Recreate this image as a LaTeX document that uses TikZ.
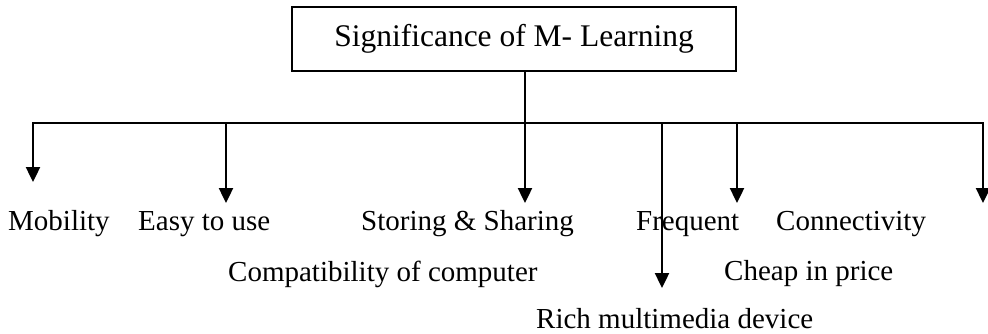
\documentclass[tikz,border=0pt]{standalone}
\usepackage{fontspec}
\setmainfont{Liberation Serif}
\usetikzlibrary{arrows.meta}
\begin{document}
\begin{tikzpicture}[x=1pt,y=-1pt,
  lbl/.style={anchor=base west, inner sep=0pt, font=\fontsize{29}{34}\selectfont},
  titlebox/.style={draw, line width=1.6pt, minimum width=444pt, minimum height=64pt,
    inner sep=0pt, font=\fontsize{31.5}{36}\selectfont},
  stem/.style={line width=1.6pt},
  arr/.style={line width=2.4pt, line join=miter, -{Triangle[length=15pt,width=14pt]}},
  busarr/.style={line width=2.4pt, line join=miter,
    {Triangle[length=15pt,width=14pt]}-{Triangle[length=15pt,width=14pt]}}]
\useasboundingbox (0,0) rectangle (988,333);

% title box
\node[titlebox] (top) at (514,39) {Significance of M- Learning};

% labels
\node[lbl] (mob)  at (8,230)   {Mobility};
\node[lbl] (easy) at (138,230) {Easy to use};
\node[lbl] (stor) at (361,230) {Storing \& Sharing};
\node[lbl] (freq) at (636,230) {Frequent};
\node[lbl] (conn) at (776,230) {Connectivity};
\node[lbl] (comp) at (228,281) {Compatibility of computer};
\node[lbl] (chp)  at (724,280) {Cheap in price};
\node[lbl] (rich) at (536,328) {Rich multimedia device};

% bus and arrow tips
\coordinate (busL) at (33,123);
\coordinate (busR) at (983,123);
\coordinate (j)    at (525,123);
\coordinate (jF)   at (662,123);
\coordinate (jE)   at (226,123);
\coordinate (jC)   at (737,123);
\coordinate (tMob)  at (33,182);
\coordinate (tEasy) at (226,203);
\coordinate (tStor) at (525,203);
\coordinate (tRich) at (662,288);
\coordinate (tConn) at (737,203);
\coordinate (tEnd)  at (983,203);

% connectors
\draw[stem] (top.south -| j) -- (j);
\draw[busarr] (tMob) -- (busL) -- (busR) -- (tEnd);
\draw[arr] (jE) -- (tEasy);
\draw[arr] (j)  -- (tStor);
\draw[arr] (jF) -- (tRich);
\draw[arr] (jC) -- (tConn);
\end{tikzpicture}
\end{document}
